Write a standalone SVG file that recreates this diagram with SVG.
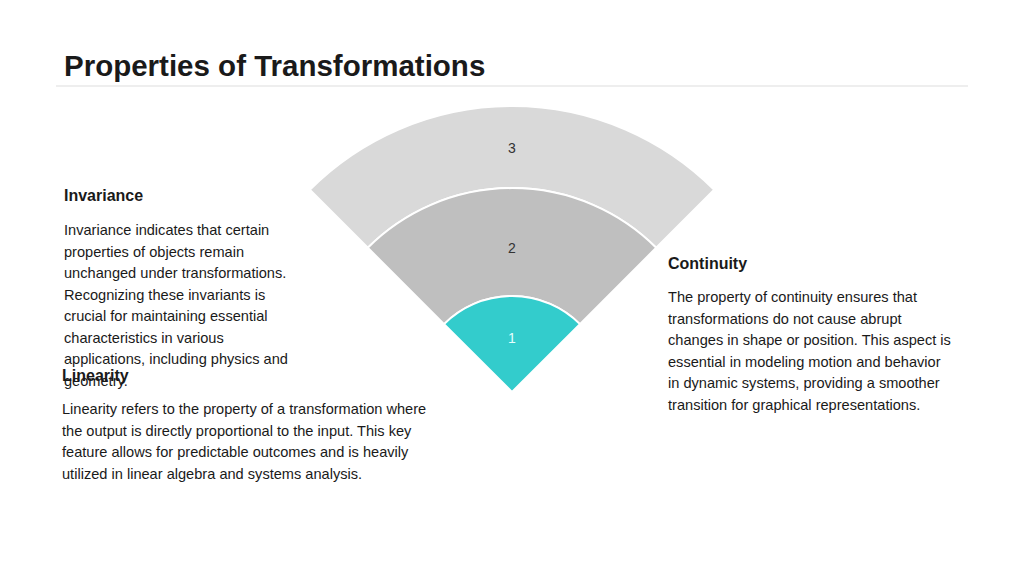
<svg xmlns="http://www.w3.org/2000/svg" width="1024" height="576" viewBox="0 0 1024 576">
<style>
text{font-family:"Liberation Sans",Arial,sans-serif;fill:#1a1a1a}
.t{font-size:29.5px;font-weight:bold}
.h{font-size:16px;font-weight:bold}
.b{font-size:14.6px}
.n{font-size:14px;fill:#333;text-anchor:middle}
.s{stroke:#fff;stroke-width:2}
</style>
<rect width="1024" height="576" fill="#fff"/>
<text class="t" x="64" y="76">Properties of Transformations</text>
<line x1="56" y1="86" x2="968" y2="86" stroke="#dddddd" stroke-width="1"/>
<g id="sector3"><path class="s" fill="#d9d9d9" d="M309.8,189.8 A286,286 0 0 1 714.2,189.8 L656.2,247.8 A204,204 0 0 0 367.8,247.8 Z"/><text class="n" x="512" y="153">3</text></g>
<g id="sector2"><path class="s" fill="#bfbfbf" d="M367.8,247.8 A204,204 0 0 1 656.2,247.8 L579.9,324.1 A96,96 0 0 0 444.1,324.1 Z"/><text class="n" x="512" y="253">2</text></g>
<g id="sector1"><path class="s" fill="#33cccc" d="M512,392 L444.1,324.1 A96,96 0 0 1 579.9,324.1 Z"/><text class="n" x="512" y="343" style="fill:#e6ffff">1</text></g>
<g id="invariance">
<text class="h" x="64" y="201">Invariance</text>
<text class="b" x="64" y="235">Invariance indicates that certain</text>
<text class="b" x="64" y="256.5">properties of objects remain</text>
<text class="b" x="64" y="278">unchanged under transformations.</text>
<text class="b" x="64" y="299.5">Recognizing these invariants is</text>
<text class="b" x="64" y="321">crucial for maintaining essential</text>
<text class="b" x="64" y="342.5">characteristics in various</text>
<text class="b" x="64" y="364">applications, including physics and</text>
<text class="b" x="64" y="385.5">geometry.</text>
</g>
<g id="linearity">
<text class="h" x="62" y="381">Linearity</text>
<text class="b" x="62" y="414">Linearity refers to the property of a transformation where</text>
<text class="b" x="62" y="435.5">the output is directly proportional to the input. This key</text>
<text class="b" x="62" y="457">feature allows for predictable outcomes and is heavily</text>
<text class="b" x="62" y="478.5">utilized in linear algebra and systems analysis.</text>
</g>
<g id="continuity">
<text class="h" x="668" y="269">Continuity</text>
<text class="b" x="668" y="302">The property of continuity ensures that</text>
<text class="b" x="668" y="323.5">transformations do not cause abrupt</text>
<text class="b" x="668" y="345">changes in shape or position. This aspect is</text>
<text class="b" x="668" y="366.5">essential in modeling motion and behavior</text>
<text class="b" x="668" y="388">in dynamic systems, providing a smoother</text>
<text class="b" x="668" y="409.5">transition for graphical representations.</text>
</g>
<g id="connectors"/>
</svg>
